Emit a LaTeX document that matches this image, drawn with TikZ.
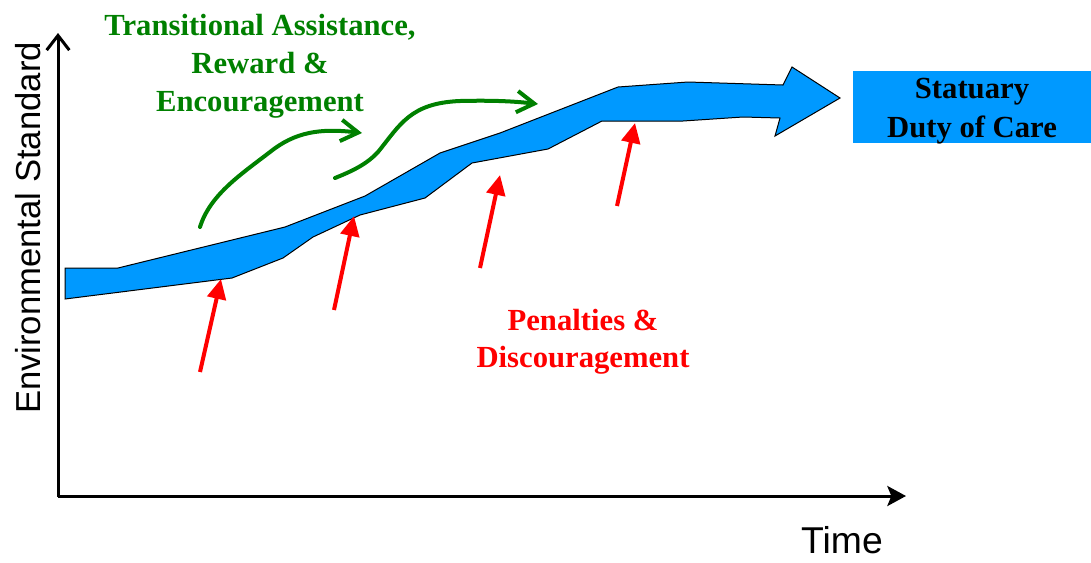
\documentclass[tikz,border=0pt]{standalone}
\usepackage{fontspec}
\setmainfont{Liberation Serif}
\newfontfamily\axisfont{Liberation Sans}
\usetikzlibrary{arrows.meta}
\definecolor{bandblue}{RGB}{0,153,255}
\definecolor{darkgreen}{RGB}{0,128,0}
\tikzstyle{axis} = [line width=2.25pt]
\tikzstyle{axistext} = [inner sep=0pt, font=\axisfont]
\tikzstyle{band} = [fill=bandblue, draw=black, line width=0.75pt, line join=miter]
\tikzstyle{dutybox} = [rectangle, fill=bandblue, minimum width=178.5pt, minimum height=54pt]
\tikzstyle{dutytext} = [align=center, font=\bfseries\fontsize{23}{29.5}\selectfont]
\tikzstyle{greentext} = [align=center, text=darkgreen, font=\bfseries\fontsize{23}{28.5}\selectfont]
\tikzstyle{redtext} = [align=center, text=red, font=\bfseries\fontsize{23}{28}\selectfont]
\tikzstyle{push} = [draw=red, line width=3pt, -{Triangle[length=15pt,width=14pt]}]
\tikzstyle{pull} = [draw=darkgreen, line width=3pt, line cap=round, -{Straight Barb[length=13pt,width=16pt]}]

\begin{document}
\begin{tikzpicture}[x=0.75pt,y=-0.75pt]
    \useasboundingbox (0,0) rectangle (1091,562);

    % axes
    \coordinate (origin) at (58,497);
    \coordinate (ytop) at (58,33);
    \coordinate (xend) at (906,496);
    \draw[axis,-{Straight Barb[length=11pt,width=17pt]}] (origin) -- (ytop);
    \draw[axis,-{Stealth[length=14pt,width=15pt,inset=3pt]}] (58,496) -- (xend);
    \node[axistext,rotate=90,font=\axisfont\fontsize{26}{30}\selectfont] (ylab) at (28,228) {Environmental Standard};
    \node[axistext,font=\axisfont\fontsize{28}{32}\selectfont] (xlab) at (842,540) {Time};

    % rising band
    \draw[band] (65,268) -- (118,268) -- (285,227) -- (365,196) -- (440,153) -- (500,133)
        -- (618,87) -- (688,82) -- (783,85) -- (792,67) -- (840,98) -- (775,136)
        -- (780,118) -- (743,117) -- (683,121) -- (602,121) -- (548,149) -- (472,163)
        -- (425,198) -- (360,215) -- (313,237) -- (283,258) -- (232,278) -- (65,299) -- cycle;

    \node[dutybox] (duty) at (972,107) {};
    \node[dutytext] (dutylabel) at (972,111) {Statuary\\Duty of Care};

    % labels
    \node[greentext] (reward) at (260,66) {Transitional Assistance,\\Reward \&\\Encouragement};
    \node[redtext] (penalty) at (583,342) {Penalties \&\\Discouragement};

    % pushing arrows from below
    \coordinate (p1) at (200,372); \coordinate (h1) at (221,279);
    \coordinate (p2) at (334,310); \coordinate (h2) at (354,216);
    \coordinate (p3) at (480,268); \coordinate (h3) at (500,175);
    \coordinate (p4) at (617,206); \coordinate (h4) at (635,123);
    \draw[push] (p1) -- (h1);
    \draw[push] (p2) -- (h2);
    \draw[push] (p3) -- (h3);
    \draw[push] (p4) -- (h4);

    % pulling arrows from above
    \coordinate (g1) at (200,227); \coordinate (t1) at (362,133);
    \coordinate (g2) at (335,178); \coordinate (t2) at (538,104);
    \draw[pull] (g1) .. controls (210,195) and (240,175) .. (270,152)
        .. controls (295,132) and (320,128) .. (t1);
    \draw[pull] (g2) .. controls (355,170) and (368,163) .. (378,152)
        .. controls (400,125) and (410,103) .. (460,101)
        .. controls (500,100) and (520,102) .. (t2);

\end{tikzpicture}
\end{document}
